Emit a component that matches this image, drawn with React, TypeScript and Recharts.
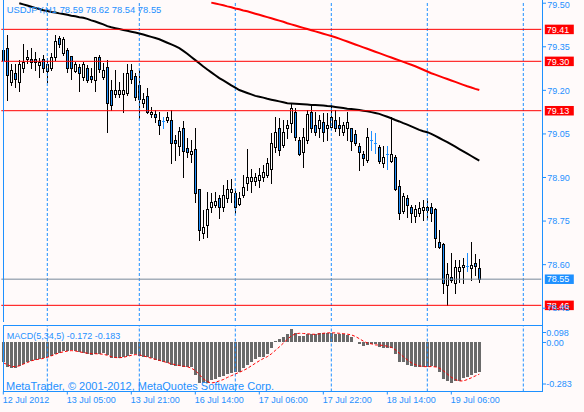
import React from 'react';
import { ComposedChart, Bar, Line, XAxis, YAxis, ReferenceLine } from 'recharts';

const SYMBOL = 'USDJPY,H1';
const OPEN = [79.304,79.347,79.228,79.259,79.228,79.278,79.307,79.307,79.307,79.287,
79.307,79.268,79.278,79.316,79.379,79.328,79.339,79.318,79.268,79.281,
79.247,79.278,79.250,79.236,79.315,79.247,79.281,79.201,79.187,79.187,
79.187,79.190,79.270,79.249,79.218,79.157,79.181,79.119,79.119,79.098,
79.094,79.098,79.098,79.029,79.008,79.069,79.000,78.981,78.997,78.859,
78.708,78.736,78.797,78.805,78.828,78.797,78.828,78.851,78.848,78.809,
78.840,78.882,78.889,78.889,78.891,78.903,78.909,78.928,79.006,79.069,
79.012,79.069,79.089,79.126,79.029,78.989,79.029,79.126,79.081,79.069,
79.090,79.069,79.073,79.098,79.081,79.058,79.069,79.069,79.050,79.008,
78.980,78.960,79.029,79.020,79.006,78.949,78.980,78.958,78.970,78.871,
78.786,78.828,78.797,78.767,78.779,78.788,78.797,78.797,78.791,78.679,
78.671,78.530,78.559,78.538,78.579,78.591,78.595,78.589,78.607,78.59];
const HIGH = [79.360,79.391,79.291,79.290,79.304,79.360,79.339,79.347,79.333,79.310,
79.322,79.310,79.328,79.391,79.388,79.385,79.347,79.318,79.299,79.290,
79.299,79.287,79.276,79.316,79.322,79.293,79.304,79.236,79.270,79.230,
79.259,79.291,79.291,79.259,79.270,79.190,79.207,79.144,79.132,79.126,
79.109,79.126,79.132,79.046,79.075,79.096,79.035,79.029,79.069,78.859,
78.788,78.851,78.848,78.851,78.840,78.874,78.891,78.894,78.859,78.851,
78.909,78.997,78.928,78.916,78.932,78.943,78.966,79.052,79.109,79.104,
79.098,79.098,79.155,79.138,79.038,79.069,79.132,79.150,79.126,79.115,
79.121,79.121,79.150,79.132,79.109,79.092,79.126,79.069,79.064,79.018,
78.992,79.069,79.061,79.052,79.012,79.008,79.008,79.109,78.977,78.891,
78.846,78.840,78.805,78.805,78.817,78.823,78.828,78.813,78.794,78.719,
78.673,78.607,78.639,78.616,78.616,78.622,78.639,78.679,78.637,78.62];
const LOW = [79.297,79.167,79.218,79.213,79.198,79.264,79.293,79.276,79.270,79.247,
79.264,79.228,79.270,79.304,79.350,79.322,79.264,79.238,79.262,79.199,
79.236,79.228,79.228,79.198,79.262,79.238,79.058,79.132,79.178,79.178,
79.126,79.184,79.224,79.167,79.104,79.144,79.121,79.107,79.092,79.050,
79.069,79.092,78.951,78.960,78.977,78.901,78.970,78.954,78.817,78.685,
78.691,78.696,78.782,78.800,78.760,78.786,78.817,78.817,78.777,78.805,
78.834,78.857,78.851,78.874,78.868,78.889,78.901,78.880,78.989,78.977,
79.006,79.035,79.058,79.029,78.977,78.937,79.020,79.058,79.046,79.038,
79.027,79.029,79.066,79.061,79.046,79.046,79.029,78.995,79.012,78.926,
78.943,78.954,78.995,78.983,78.949,78.937,78.928,78.954,78.857,78.756,
78.777,78.765,78.748,78.748,78.767,78.754,78.756,78.751,78.662,78.656,
78.503,78.461,78.541,78.503,78.541,78.536,78.579,78.547,78.564,78.54];
const CLOSE = [79.339,79.253,79.270,79.238,79.290,79.297,79.316,79.297,79.297,79.297,
79.278,79.290,79.316,79.370,79.360,79.376,79.278,79.278,79.290,79.259,
79.290,79.236,79.239,79.316,79.273,79.270,79.157,79.150,79.201,79.201,
79.201,79.259,79.238,79.178,79.169,79.169,79.126,79.126,79.107,79.081,
79.094,79.107,79.018,79.018,79.061,78.992,78.989,78.992,78.848,78.719,
78.729,78.791,78.817,78.819,78.797,78.840,78.859,78.859,78.797,78.828,
78.868,78.901,78.901,78.901,78.909,78.920,78.949,79.018,79.058,78.995,
79.058,79.081,79.138,79.038,78.981,79.038,79.119,79.069,79.058,79.098,
79.058,79.081,79.107,79.069,79.069,79.081,79.090,79.027,79.018,78.989,
78.968,79.038,79.029,79.020,78.958,78.970,78.980,78.980,78.859,78.779,
78.836,78.805,78.779,78.791,78.794,78.797,78.788,78.779,78.691,78.660,
78.538,78.568,78.547,78.593,78.593,78.599,78.595,78.599,78.595,78.55];

const MA_BLACK_START = 4;
const MA_BLACK = [79.500,79.496,79.492,79.488,79.484,79.480,79.476,79.473,79.470,79.468,
79.465,79.463,79.460,79.457,79.455,79.452,79.450,79.446,79.441,79.437,
79.432,79.427,79.421,79.417,79.414,79.411,79.408,79.405,79.402,79.399,
79.396,79.392,79.388,79.384,79.380,79.376,79.370,79.364,79.358,79.352,
79.345,79.336,79.326,79.315,79.304,79.293,79.282,79.272,79.262,79.252,
79.242,79.234,79.226,79.217,79.209,79.201,79.196,79.191,79.186,79.181,
79.178,79.175,79.171,79.168,79.165,79.162,79.159,79.156,79.155,79.154,
79.153,79.152,79.151,79.150,79.150,79.149,79.148,79.146,79.145,79.143,
79.141,79.139,79.137,79.136,79.134,79.132,79.130,79.128,79.125,79.122,
79.119,79.114,79.109,79.104,79.098,79.093,79.087,79.082,79.076,79.070,
79.064,79.059,79.056,79.050,79.043,79.036,79.029,79.022,79.014,79.006,
78.998,78.990,78.982,78.974,78.966,78.958];
const MA_RED_START = 52;
const MA_RED = [79.502,79.499,79.496,79.493,79.489,79.486,79.482,79.479,79.475,79.472,
79.468,79.464,79.460,79.456,79.452,79.448,79.444,79.440,79.436,79.431,
79.427,79.423,79.419,79.415,79.411,79.407,79.403,79.399,79.395,79.391,
79.387,79.383,79.378,79.373,79.368,79.363,79.358,79.353,79.348,79.343,
79.338,79.333,79.328,79.323,79.318,79.313,79.308,79.303,79.298,79.293,
79.288,79.283,79.277,79.271,79.265,79.259,79.254,79.249,79.244,79.239,
79.234,79.229,79.224,79.219,79.214,79.210,79.205,79.201];

const MACD = [-0.115,-0.144,-0.149,-0.145,-0.136,-0.126,-0.115,-0.105,-0.101,-0.095,
-0.092,-0.086,-0.078,-0.068,-0.059,-0.051,-0.047,-0.045,-0.051,-0.057,
-0.063,-0.068,-0.072,-0.068,-0.066,-0.063,-0.072,-0.088,-0.092,-0.092,
-0.086,-0.078,-0.068,-0.068,-0.076,-0.082,-0.086,-0.092,-0.101,-0.105,
-0.111,-0.120,-0.130,-0.134,-0.136,-0.140,-0.144,-0.140,-0.188,-0.236,
-0.236,-0.232,-0.217,-0.213,-0.201,-0.194,-0.182,-0.178,-0.169,-0.169,
-0.149,-0.130,-0.111,-0.097,-0.086,-0.082,-0.066,-0.034,0.011,0.020,
0.034,0.049,0.078,0.057,0.038,0.038,0.049,0.049,0.049,0.057,
0.057,0.057,0.053,0.049,0.049,0.049,0.043,0.030,0.001,-0.009,
-0.020,-0.014,-0.009,-0.011,-0.024,-0.034,-0.034,-0.034,-0.068,-0.115,
-0.115,-0.130,-0.136,-0.140,-0.140,-0.140,-0.140,-0.136,-0.144,-0.169,
-0.211,-0.223,-0.232,-0.221,-0.221,-0.207,-0.197,-0.188,-0.178,-0.172];
const SIGNAL = [-0.117,-0.128,-0.138,-0.140,-0.135,-0.125,-0.116,-0.106,-0.100,-0.096,
-0.092,-0.086,-0.077,-0.068,-0.060,-0.054,-0.050,-0.047,-0.049,-0.054,
-0.058,-0.062,-0.064,-0.065,-0.066,-0.068,-0.074,-0.082,-0.087,-0.088,
-0.086,-0.080,-0.074,-0.070,-0.072,-0.077,-0.084,-0.091,-0.097,-0.103,
-0.110,-0.116,-0.123,-0.128,-0.133,-0.137,-0.140,-0.148,-0.162,-0.185,
-0.210,-0.226,-0.234,-0.230,-0.222,-0.214,-0.202,-0.192,-0.182,-0.172,
-0.162,-0.150,-0.135,-0.120,-0.106,-0.093,-0.082,-0.066,-0.046,-0.026,
-0.004,0.018,0.038,0.050,0.053,0.052,0.050,0.048,0.047,0.050,
0.053,0.055,0.056,0.055,0.053,0.051,0.048,0.044,0.035,0.022,
0.008,-0.003,-0.008,-0.014,-0.015,-0.017,-0.022,-0.028,-0.042,-0.062,
-0.082,-0.100,-0.117,-0.128,-0.135,-0.139,-0.140,-0.139,-0.141,-0.148,
-0.163,-0.182,-0.201,-0.214,-0.222,-0.222,-0.214,-0.204,-0.193,-0.183];

const SLOTS = 135;
const PRICE_TICKS = [79.5, 79.35, 79.2, 79.05, 78.9, 78.75, 78.6, 78.45];
const RED_LEVELS = [79.41, 79.3, 79.13, 78.46];
const BID = 78.55;
const GRID_IDX = [11, 34, 58, 82, 106, 130];
const TIME_IDX = [0, 16, 32, 48, 64, 80, 96, 112];
const TIME_LABELS = ['12 Jul 2012', '13 Jul 05:00', '13 Jul 21:00', '16 Jul 14:00', '17 Jul 06:00', '17 Jul 22:00', '18 Jul 14:00', '19 Jul 06:00'];
const MACD_TICKS = [0.098, 0, -0.283];
const P_MIN = 78.406;
const P_MAX = 79.5076;

const BLUE = '#1E90FF';
const BG = '#FFFAFA';
const GRAY = '#6A6A6A';
const FONT = "'Liberation Sans', Arial, sans-serif";

const rows = Array.from({ length: SLOTS }, (_, i) => {
  const has = i < OPEN.length;
  const b = i - MA_BLACK_START;
  const r = i - MA_RED_START;
  return {
    i,
    range: has ? [LOW[i], HIGH[i]] : null,
    o: has ? OPEN[i] : null,
    h: has ? HIGH[i] : null,
    l: has ? LOW[i] : null,
    c: has ? CLOSE[i] : null,
    ma1: b >= 0 && b < MA_BLACK.length ? MA_BLACK[b] : null,
    ma2: r >= 0 && r < MA_RED.length ? MA_RED[r] : null,
    macd: has ? MACD[i] : null,
    sig: has ? SIGNAL[i] : null,
  };
});

const Candle = (props: any) => {
  const { x, y, width, height, payload } = props;
  if (!payload || payload.h == null || !isFinite(x) || !isFinite(y) || !isFinite(height)) return null;
  const { o, h, l, c } = payload;
  const span = h - l;
  const k = span > 0 ? Math.abs(height) / span : 0;
  const yTop = Math.min(y, y + height);
  const rc = Math.round(x + width / 2);
  const yH = yTop;
  const yL = yTop + span * k;
  const yO = yTop + (h - o) * k;
  const yC = yTop + (h - c) * k;
  if (o === c) {
    const yy = Math.round(yO) + 0.5;
    return (
      <g shapeRendering="crispEdges">
        <line x1={rc + 0.5} x2={rc + 0.5} y1={Math.round(yH)} y2={Math.round(yL) + 1} stroke={BLUE} strokeWidth={1} />
        <line x1={rc - 1} x2={rc + 2} y1={yy} y2={yy} stroke={BLUE} strokeWidth={1} />
      </g>
    );
  }
  const bull = c > o;
  const bt = Math.round(Math.min(yO, yC));
  const bb = Math.round(Math.max(yO, yC));
  const bh = Math.max(bb - bt, 1);
  return (
    <g shapeRendering="crispEdges">
      <line x1={rc + 0.5} x2={rc + 0.5} y1={Math.round(yH)} y2={Math.round(yL) + 1} stroke="#000" strokeWidth={1} />
      <rect x={rc - 0.5} y={bt + 0.5} width={2} height={bh} fill={bull ? '#FFFFFF' : BLUE} stroke="#000" strokeWidth={1} />
    </g>
  );
};

const MacdBar = (props: any) => {
  const { x, y, width, height } = props;
  if (!isFinite(x) || !isFinite(y) || !isFinite(height)) return null;
  const rc = Math.round(x + width / 2);
  const top = Math.min(y, y + height);
  return <rect x={rc - 1} y={top} width={3} height={Math.abs(height)} fill={GRAY} shapeRendering="crispEdges" />;
};

const PriceTick = (props: any) => {
  const { x, y, payload } = props;
  const ty = Math.max(y, 4.6);
  return (
    <g>
      <line x1={x + 1.7} x2={x + 4.7} y1={y} y2={y} stroke={BLUE} strokeWidth={1} />
      <text x={x + 6} y={ty + 3.2} fill={BLUE} fontSize={9} fontFamily={FONT}>{Number(payload.value).toFixed(2)}</text>
    </g>
  );
};

const MacdTick = (props: any) => {
  const { x, y, payload } = props;
  const v = Number(payload.value);
  const top = Math.max(...MACD_TICKS);
  const bot = Math.min(...MACD_TICKS);
  const yy = v === top ? y + 7 : v === bot ? y - 7.5 : y;
  const txt = v === 0 ? '0.00' : v.toFixed(3);
  return (
    <g>
      <line x1={x + 1.7} x2={x + 4.7} y1={yy} y2={yy} stroke={BLUE} strokeWidth={1} />
      <text x={x + 5} y={yy + 3.2} fill={BLUE} fontSize={9} fontFamily={FONT}>{txt}</text>
    </g>
  );
};

const TimeTick = (props: any) => {
  const { x, y, payload } = props;
  const idx = TIME_IDX.indexOf(Number(payload.value));
  return (
    <g>
      <line x1={x} x2={x} y1={y} y2={y + 3} stroke={BLUE} strokeWidth={1} />
      <text x={x - 0.5} y={y + 11.8} fill={BLUE} fontSize={9} fontFamily={FONT} textAnchor="start">{idx >= 0 ? TIME_LABELS[idx] : ''}</text>
    </g>
  );
};

const LevelTag = (props: any) => {
  const { viewBox, txt, bg } = props;
  if (!viewBox) return null;
  const x = viewBox.x + viewBox.width;
  const y = viewBox.y;
  return (
    <g>
      <rect x={x + 3.5} y={y - 4.7} width={29} height={9.5} fill={bg} />
      <text x={x + 5.5} y={y + 3.3} fill="#FFFFFF" fontSize={9} fontFamily={FONT}>{txt}</text>
    </g>
  );
};

export default function App() {
  const last = OPEN.length - 1;
  const header = `${SYMBOL}  ${OPEN[last].toFixed(2)} ${HIGH[last].toFixed(2)} ${LOW[last].toFixed(2)} ${CLOSE[last].toFixed(2)}`;
  const macdLabel = `MACD(5,34,5) ${MACD[last].toFixed(3)} ${SIGNAL[last].toFixed(3)}`;
  return (
    <div style={{ position: 'absolute', left: 0, top: 0, width: 584, height: 412, background: BG, overflow: 'hidden' }}>
      <div style={{ position: 'absolute', left: 0, top: 0 }}>
        <ComposedChart width={584} height={321} data={rows} margin={{ top: 1, right: 0, bottom: 0, left: 1.3 }}>
          <XAxis dataKey="i" type="category" hide height={0} />
          <YAxis orientation="right" width={42.7} domain={[P_MIN, P_MAX]} ticks={PRICE_TICKS} allowDataOverflow
            axisLine={false} tickLine={false} tickSize={0} tickMargin={0} tick={<PriceTick />} interval={0} />
          {GRID_IDX.map((g) => (
            <ReferenceLine key={'g' + g} x={g} stroke={BLUE} strokeDasharray="3 2" />
          ))}
          <Bar dataKey="range" shape={<Candle />} isAnimationActive={false} />
          <Line dataKey="ma2" type="linear" stroke="#FF0000" strokeWidth={2} dot={false} activeDot={false} isAnimationActive={false} />
          <Line dataKey="ma1" type="linear" stroke="#000000" strokeWidth={2} dot={false} activeDot={false} isAnimationActive={false} />
          <ReferenceLine y={BID} stroke="#778899" label={<LevelTag txt={BID.toFixed(2)} bg={BLUE} />} />
          {RED_LEVELS.map((p) => (
            <ReferenceLine key={'r' + p} y={p} stroke="#FF0000" label={<LevelTag txt={p.toFixed(2)} bg="#FF0000" />} />
          ))}
        </ComposedChart>
      </div>
      <div style={{ position: 'absolute', left: 0, top: 0 }}>
        <ComposedChart width={584} height={412} data={rows} margin={{ top: 325.5, right: 0, bottom: 0, left: 1.3 }}>
          <XAxis dataKey="i" type="category" height={20.5} ticks={TIME_IDX} interval={0} axisLine={false}
            tickLine={false} tickSize={0} tickMargin={0} tick={<TimeTick />} />
          <YAxis orientation="right" width={42.7} domain={[Math.min(...MACD_TICKS), Math.max(...MACD_TICKS)]} ticks={MACD_TICKS}
            allowDataOverflow axisLine={false} tickLine={false} tickSize={0} tickMargin={0} tick={<MacdTick />} interval={0} />
          {GRID_IDX.map((g) => (
            <ReferenceLine key={'mg' + g} x={g} stroke={BLUE} strokeDasharray="3 2" />
          ))}
          <Bar dataKey="macd" shape={<MacdBar />} isAnimationActive={false} />
          <Line dataKey="sig" type="linear" stroke="#FF0000" strokeWidth={1} strokeDasharray="3 2" dot={false} activeDot={false} isAnimationActive={false} />
        </ComposedChart>
      </div>
      <svg width={584} height={412} style={{ position: 'absolute', left: 0, top: 0, pointerEvents: 'none' }}>
        <g stroke={BLUE} strokeWidth={1} shapeRendering="crispEdges">
          <line x1={3.5} x2={3.5} y1={0} y2={322} />
          <line x1={542.5} x2={542.5} y1={0} y2={392} />
          <line x1={3} x2={543} y1={325.5} y2={325.5} />
          <line x1={3.5} x2={3.5} y1={325} y2={392} />
          <line x1={3} x2={543} y1={391.5} y2={391.5} />
        </g>
        <text x={6.7} y={13.3} fill={BLUE} fontSize={9.4} fontFamily={FONT}>{header}</text>
        <text x={6.7} y={339} fill={BLUE} fontSize={9} fontFamily={FONT}>{macdLabel}</text>
        <text x={6} y={390} fill={BLUE} fontSize={11} fontFamily={FONT}>MetaTrader, © 2001-2012, MetaQuotes Software Corp.</text>
      </svg>
    </div>
  );
}
